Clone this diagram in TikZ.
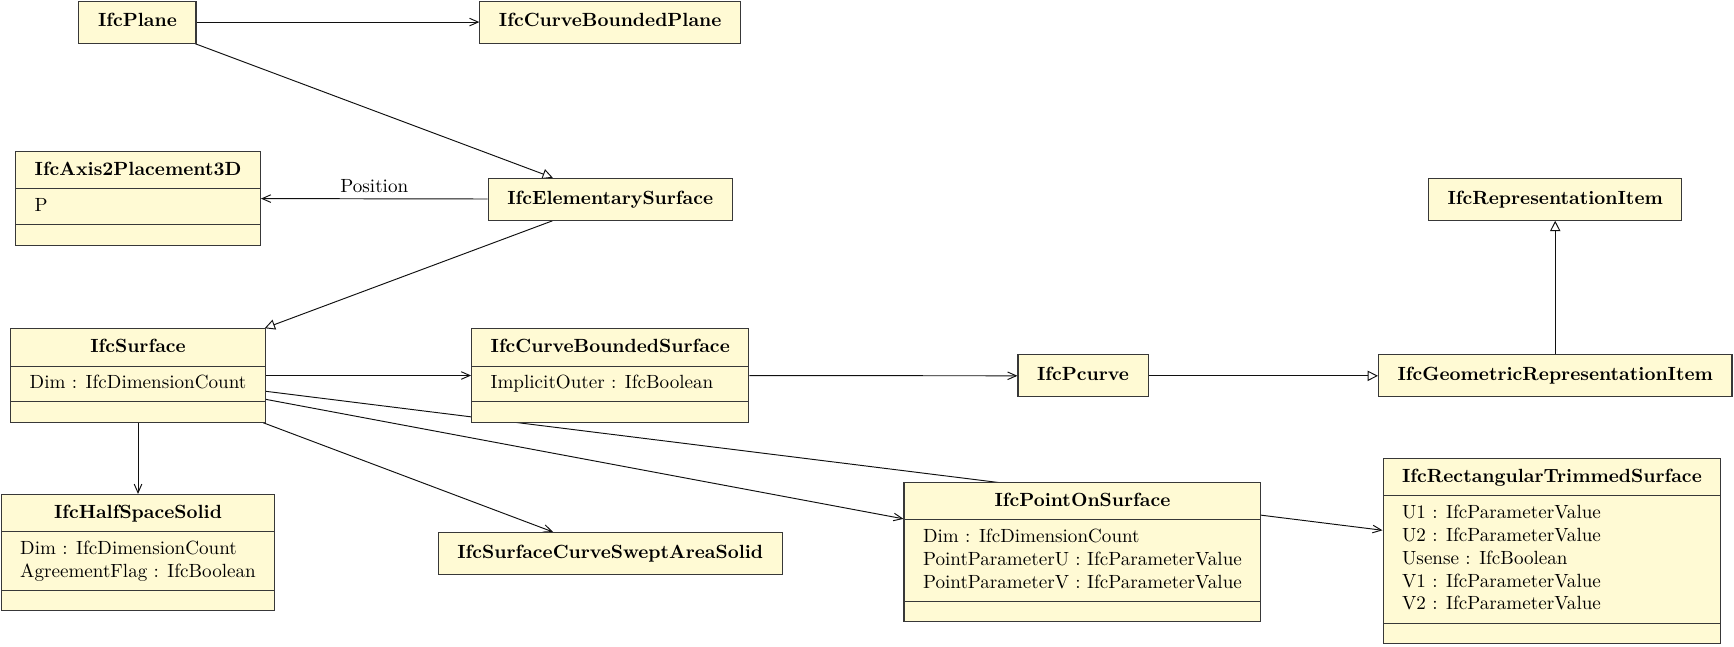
\documentclass[tikz,border=0pt]{standalone}
\usepackage{tikz}
\usetikzlibrary{shapes.multipart,arrows.meta,backgrounds}
\definecolor{ifcFill}{HTML}{FFFAD4}
\definecolor{ifcEdge}{HTML}{383838}
\definecolor{ifcLine}{HTML}{101010}
\tikzset{
  ifcbox/.style={draw=ifcEdge,line width=0.55pt,fill=ifcFill,anchor=north,inner xsep=10pt},
  ifcent/.style={ifcbox,inner ysep=5pt,text height=8.5pt,text depth=3.5pt,font=\bfseries},
  ifccls/.style={ifcbox,inner ysep=3pt,rectangle split,rectangle split parts=3,
                 rectangle split part align={center,left,left},rectangle split empty part height=0pt},
  ifcref/.style={-{Straight Barb[length=1.6mm,width=1.4mm]},draw=ifcLine,line width=0.5pt},
  ifcsub/.style={-{Triangle[open,length=1.9mm,width=1.9mm]},draw=ifcLine,line width=0.5pt},
  ifclbl/.style={inner sep=3pt},
}
\newcommand{\ifchead}[1]{\rule[-3.9pt]{0pt}{13pt}\textbf{#1}}
\newcommand{\ifcatts}[1]{\begin{tabular}{@{}l@{}}#1\end{tabular}}

\begin{document}
\begin{tikzpicture}[x=1mm,y=1mm]
  \useasboundingbox (0,0) rectangle (319.1,-118.9);
  \node[ifcent] (PL)   at (25.3,-0.1)   {IfcPlane};
  \node[ifcent] (CBPL) at (112.3,-0.1)  {IfcCurveBoundedPlane};
  \node[ifccls] (AX)   at (25.4,-27.8)  {\ifchead{IfcAxis2Placement3D}\nodepart{second}\ifcatts{P}};
  \node[ifcent] (ES)   at (112.3,-32.7) {IfcElementarySurface};
  \node[ifcent] (RI)   at (286.2,-32.7) {IfcRepresentationItem};
  \node[ifccls] (SU)   at (25.4,-60.4)  {\ifchead{IfcSurface}\nodepart{second}\ifcatts{Dim : IfcDimensionCount}};
  \node[ifccls] (CBS)  at (112.3,-60.4) {\ifchead{IfcCurveBoundedSurface}\nodepart{second}\ifcatts{ImplicitOuter : IfcBoolean}};
  \node[ifcent] (PC)   at (199.3,-65.2) {IfcPcurve};
  \node[ifcent] (GRI)  at (286.2,-65.2) {IfcGeometricRepresentationItem};
  \node[ifccls] (HSS)  at (25.4,-90.9)  {\ifchead{IfcHalfSpaceSolid}\nodepart{second}\ifcatts{Dim : IfcDimensionCount\\
                                         AgreementFlag : IfcBoolean}};
  \node[ifcent] (SCS)  at (112.3,-97.9) {IfcSurfaceCurveSweptAreaSolid};
  \node[ifccls] (POS)  at (199.2,-88.7) {\ifchead{IfcPointOnSurface}\nodepart{second}\ifcatts{Dim : IfcDimensionCount\\
                                         PointParameterU : IfcParameterValue\\
                                         PointParameterV : IfcParameterValue}};
  \node[ifccls] (RTS)  at (285.6,-84.3) {\ifchead{IfcRectangularTrimmedSurface}\nodepart{second}\ifcatts{U1 : IfcParameterValue\\
                                         U2 : IfcParameterValue\\
                                         Usense : IfcBoolean\\
                                         V1 : IfcParameterValue\\
                                         V2 : IfcParameterValue}};

  \begin{scope}[on background layer]
    \draw[ifcref] (PL)--(CBPL);
    \draw[ifcsub] (PL)--(ES);
    \draw[ifcref] (ES)--node[ifclbl,above]{Position}(AX);
    \draw[ifcsub] (ES)--(SU);
    \foreach \b in {CBS,HSS,SCS,POS,RTS}{\draw[ifcref] (SU)--(\b);}
    \draw[ifcref] (CBS)--(PC);
    \draw[ifcsub] (PC)--(GRI);
    \draw[ifcsub] (GRI)--(RI);
  \end{scope}
\end{tikzpicture}
\end{document}
